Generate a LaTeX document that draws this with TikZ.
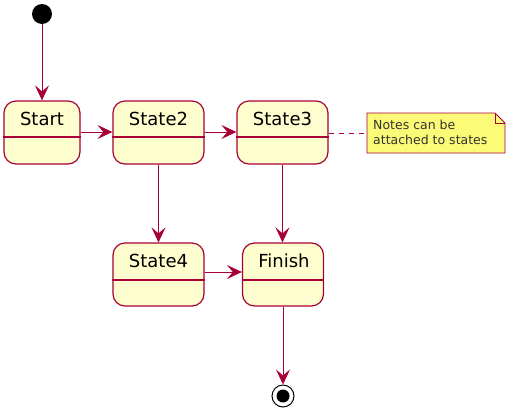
\documentclass[tikz,border=0pt]{standalone}
\usepackage{fontspec}
\setmainfont{DejaVu Sans}
\usetikzlibrary{arrows.meta}
\definecolor{bord}{HTML}{A80036}
\definecolor{stfill}{HTML}{FEFECE}
\definecolor{notefill}{HTML}{FBFB77}
\begin{document}
\begin{tikzpicture}[x=1pt,y=-1pt,
  stbox/.style={draw=bord,fill=stfill,line width=1.2pt,rounded corners=12pt,minimum height=63pt,inner sep=0pt},
  ttl/.style={font=\fontsize{18}{21}\selectfont,inner sep=0pt,anchor=base},
  divline/.style={draw=bord,line width=1.2pt},
  flow/.style={draw=bord,line width=1pt,-{Stealth[length=15pt,width=14pt,inset=6pt]}},
  notelink/.style={draw=bord,line width=1pt,dash pattern=on 5pt off 5pt}]
\useasboundingbox (0,0) rectangle (516,413);
% initial
\node[circle,fill=black,minimum size=20pt,inner sep=0pt] (init) at (42,14) {};
% states
\node[stbox,minimum width=76pt] (start) at (42,132.5) {};
\node[stbox,minimum width=91pt] (s2) at (158.5,132.5) {};
\node[stbox,minimum width=91pt] (s3) at (282.5,132.5) {};
\node[stbox,minimum width=91pt] (s4) at (158.5,274.5) {};
\node[stbox,minimum width=81pt] (fin) at (283,274.5) {};
% titles
\node[ttl] (startT) at (42,125.5) {Start};
\node[ttl] (s2T) at (158.5,125.5) {State2};
\node[ttl] (s3T) at (282.5,125.5) {State3};
\node[ttl] (s4T) at (158.5,267.5) {State4};
\node[ttl] (finT) at (284,267.5) {Finish};
% dividers
\path[divline] (start.west |- 0,137) -- (start.east |- 0,137);
\path[divline] (s2.west |- 0,137) -- (s2.east |- 0,137);
\path[divline] (s3.west |- 0,137) -- (s3.east |- 0,137);
\path[divline] (s4.west |- 0,280) -- (s4.east |- 0,280);
\path[divline] (fin.west |- 0,280) -- (fin.east |- 0,280);
% final
\node[circle,draw=black,fill=white,line width=1pt,minimum size=22pt,inner sep=0pt] (final) at (283,396) {};
\node[circle,fill=black,minimum size=13pt,inner sep=0pt] (finalIn) at (final.center) {};
% note
\coordinate (nA) at (367,113);
\coordinate (nB) at (495,113);
\coordinate (nC) at (505,123);
\coordinate (nD) at (505,153);
\coordinate (nE) at (367,153);
\filldraw[draw=bord,fill=notefill,line width=0.8pt] (nA) -- (nB) -- (nC) -- (nD) -- (nE) -- cycle;
\draw[draw=bord,line width=0.8pt] (nB) -- (495,123) -- (nC);
\node[font=\fontsize{12.5}{15}\selectfont,align=left,anchor=north west,inner sep=0pt,text=black!80] (note) at (373,120) {Notes can be\\attached to states};
% connectors
\path[flow] (init) -- (start);
\path[flow] (start.east |- 0,132) -- (s2.west |- 0,132);
\path[flow] (s2.east |- 0,132) -- (s3.west |- 0,132);
\path[flow] (s2) -- (s4);
\path[flow] (s3) -- (s3 |- fin.north);
\path[flow] (s4.east |- 0,272) -- (fin.west |- 0,272);
\path[flow] (fin) -- (final);
\path[notelink] (s3.east |- 0,133) -- (nA |- 0,133);
\end{tikzpicture}
\end{document}
